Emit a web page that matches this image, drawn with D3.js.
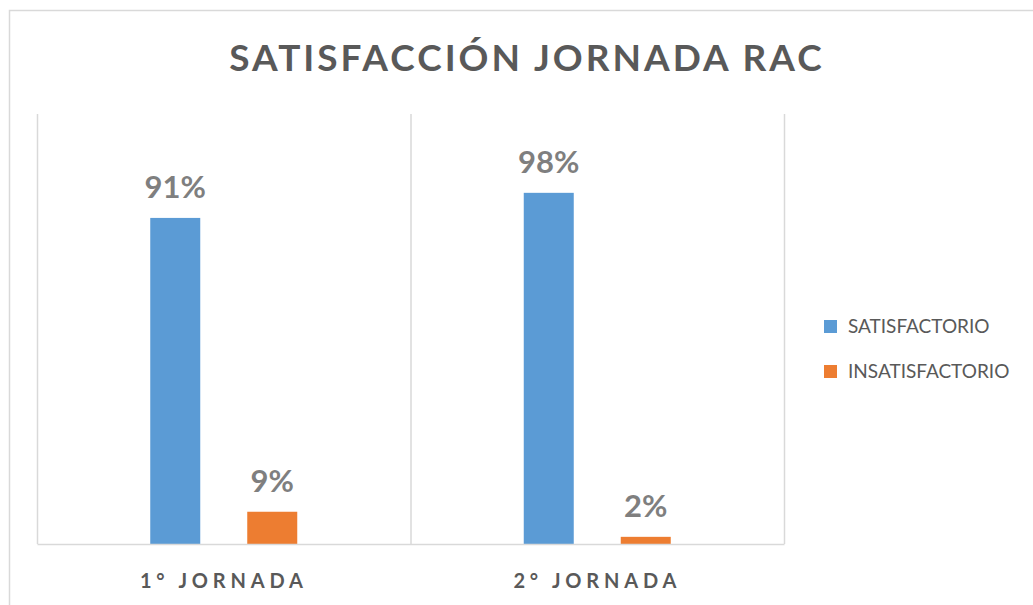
<!DOCTYPE html>
<html>
<head>
<meta charset="utf-8">
<script src="https://cdn.jsdelivr.net/npm/d3@7"></script>
<style>
  body { margin: 0; background: #fff; }
  svg { display: block; font-family: Lato, "Open Sans", sans-serif; }
</style>
</head>
<body>
<svg id="chart" width="1033" height="605"></svg>
<script>
  // Data
  var CATEGORIES = ["1° JORNADA", "2° JORNADA"];
  var SERIES = ["SATISFACTORIO", "INSATISFACTORIO"];
  var SATISFACTORIO = [0.91, 0.98];
  var INSATISFACTORIO = [0.09, 0.02];
  var COLORS = ["#5b9bd5", "#ed7d31"];
  var TITLE = "SATISFACCIÓN JORNADA RAC";

  var rows = CATEGORIES.map(function (c, i) {
    return { cat: c, values: [SATISFACTORIO[i], INSATISFACTORIO[i]] };
  });

  // Plot area (pixels)
  var LEFT = 37, RIGHT = 784, TOP = 114, BOTTOM = 544;
  var BAR_W = 50;

  var svg = d3.select("#chart");

  // outer chart border
  svg.append("rect")
    .attr("x", 9.5).attr("y", 10.5)
    .attr("width", 1040).attr("height", 620)
    .attr("fill", "none").attr("stroke", "#d9d9d9").attr("stroke-width", 1.5);

  var x0 = d3.scaleBand().domain(CATEGORIES).range([LEFT, RIGHT]).padding(0);
  // series offset inside each category band
  var x1 = d3.scalePoint().domain(SERIES).range([-48.5, 48.5]);
  var y = d3.scaleLinear().domain([0, 1.2]).range([BOTTOM, TOP]);

  // vertical category separators
  var seps = [LEFT].concat(CATEGORIES.map(function (c) { return x0(c) + x0.bandwidth(); }));
  svg.selectAll(".sep").data(seps).enter().append("line")
    .attr("class", "sep")
    .attr("x1", function (d) { return d + 0.5; }).attr("x2", function (d) { return d + 0.5; })
    .attr("y1", TOP).attr("y2", BOTTOM)
    .attr("stroke", "#d9d9d9").attr("stroke-width", 1.5);

  // bars
  var groups = svg.selectAll(".grp").data(rows).enter().append("g")
    .attr("class", "grp")
    .attr("transform", function (d) { return "translate(" + (x0(d.cat) + x0.bandwidth() / 2) + ",0)"; });

  groups.selectAll("rect").data(function (d) { return d.values; }).enter().append("rect")
    .attr("x", function (d, i) { return x1(SERIES[i]) - BAR_W / 2; })
    .attr("y", function (d) { return y(d); })
    .attr("width", BAR_W)
    .attr("height", function (d) { return BOTTOM - y(d); })
    .attr("fill", function (d, i) { return COLORS[i]; });

  groups.selectAll("text.val").data(function (d) { return d.values; }).enter().append("text")
    .attr("class", "val")
    .attr("x", function (d, i) { return x1(SERIES[i]); })
    .attr("y", function (d) { return y(d) - 20; })
    .attr("text-anchor", "middle")
    .attr("font-size", 31).attr("font-weight", "bold")
    .attr("fill", "#7f7f7f")
    .text(function (d) { return Math.round(d * 100) + "%"; });

  // baseline axis
  var xAxis = svg.append("g")
    .attr("transform", "translate(0," + BOTTOM + ")")
    .call(d3.axisBottom(x0).tickSize(0).tickPadding(30));
  xAxis.select(".domain").attr("stroke", "#d9d9d9").attr("stroke-width", 1.5);
  xAxis.selectAll(".tick text")
    .attr("font-family", "Lato, sans-serif")
    .attr("font-size", 20).attr("font-weight", "bold")
    .attr("letter-spacing", "4.8px")
    .attr("fill", "#595959");

  // title
  svg.append("text")
    .attr("x", 527).attr("y", 71)
    .attr("text-anchor", "middle")
    .attr("font-size", 37).attr("font-weight", "bold")
    .attr("letter-spacing", "3px")
    .attr("fill", "#595959")
    .text(TITLE);

  // legend
  var legend = svg.selectAll(".leg").data(SERIES).enter().append("g")
    .attr("class", "leg")
    .attr("transform", function (d, i) { return "translate(824," + (320 + i * 45) + ")"; });
  legend.append("rect")
    .attr("width", 13).attr("height", 13)
    .attr("fill", function (d, i) { return COLORS[i]; });
  legend.append("text")
    .attr("x", 24).attr("y", 13)
    .attr("font-size", 19)
    .attr("fill", "#595959")
    .text(function (d) { return d; });
</script>
</body>
</html>
